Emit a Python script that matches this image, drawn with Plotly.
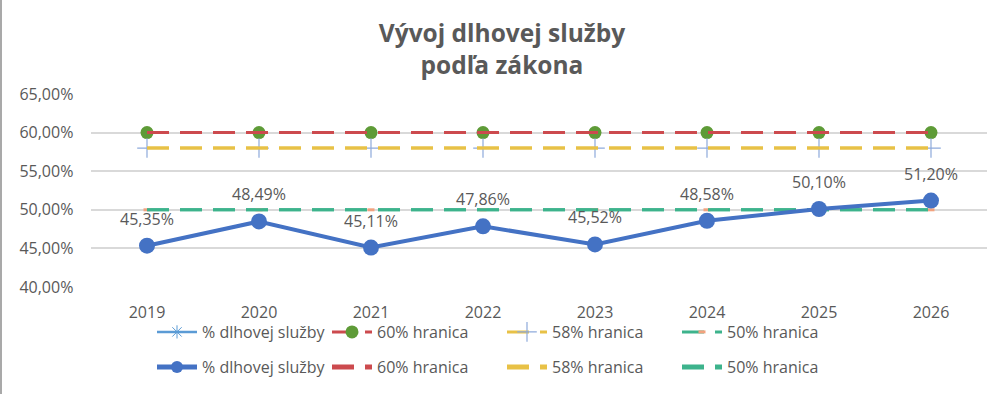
import plotly.graph_objects as go

years = ["2019", "2020", "2021", "2022", "2023", "2024", "2025", "2026"]
debt_service = [0.4535, 0.4849, 0.4511, 0.4786, 0.4552, 0.4858, 0.5010, 0.5120]
limit_60 = [0.60] * 8
limit_58 = [0.58] * 8
limit_50 = [0.50] * 8

FONT = "Open Sans"
GRAY = "#595959"
BLUE = "#4472C4"
RED = "#CC4A4E"
YELLOW = "#E8C146"
TEAL = "#3DB38C"
GREEN = "#5E9B37"
LIGHTBLUE = "#8EAADB"
ORANGE = "#F2A27E"
DASH = "22px,11px"

fig = go.Figure()

# Row 1 legend series
fig.add_trace(go.Scatter(x=years, y=debt_service, name="% dlhovej služby", mode="lines+markers",
                         line=dict(color="#5B9BD5", width=2.5),
                         marker=dict(symbol="asterisk-open", size=11, color="#5B9BD5", line=dict(width=1, color="#5B9BD5")),
                         legend="legend", hoverinfo="skip"))
fig.add_trace(go.Scatter(x=years, y=limit_60, name="60% hranica", mode="lines+markers",
                         line=dict(color=RED, width=3, dash=DASH),
                         marker=dict(symbol="circle", size=13, color=GREEN),
                         legend="legend"))
fig.add_trace(go.Scatter(x=years, y=limit_58, name="58% hranica", mode="lines+markers",
                         line=dict(color=YELLOW, width=3, dash=DASH),
                         marker=dict(symbol="cross-thin-open", size=14, color=LIGHTBLUE, line=dict(width=1.2, color=LIGHTBLUE)),
                         legend="legend"))
fig.add_trace(go.Scatter(x=years, y=limit_50, name="50% hranica", mode="lines+markers",
                         line=dict(color=TEAL, width=3, dash=DASH),
                         marker=dict(symbol="line-ew-open", size=5, color=ORANGE, line=dict(width=3, color=ORANGE)),
                         legend="legend"))

# Row 2 legend series
fig.add_trace(go.Scatter(x=years, y=limit_60, name="60% hranica", mode="lines",
                         line=dict(color=RED, width=3, dash=DASH), legend="legend2"))
fig.add_trace(go.Scatter(x=years, y=limit_58, name="58% hranica", mode="lines",
                         line=dict(color=YELLOW, width=3, dash=DASH), legend="legend2"))
fig.add_trace(go.Scatter(x=years, y=limit_50, name="50% hranica", mode="lines",
                         line=dict(color=TEAL, width=3, dash=DASH), legend="legend2"))
fig.add_trace(go.Scatter(x=years, y=debt_service, name="% dlhovej služby", mode="lines+markers",
                         line=dict(color=BLUE, width=4),
                         marker=dict(symbol="circle", size=16, color=BLUE),
                         legend="legend2", legendrank=1))

# data labels (category axis annotations use the category serial number)
for i, v in enumerate(debt_service):
    fig.add_annotation(x=i, y=v, xref="x", yref="y", text=f"{v*100:.2f}%".replace(".", ","),
                       showarrow=False, yshift=27, font=dict(family=FONT, size=16, color=GRAY))

legend_common = dict(orientation="h", xref="container", yref="container", xanchor="left", yanchor="middle",
                     entrywidth=120, itemwidth=40, font=dict(family=FONT, size=16, color=GRAY),
                     bgcolor="rgba(0,0,0,0)", traceorder="normal")

fig.update_layout(
    width=1004, height=394,
    margin=dict(l=91, r=17, t=94, b=107, autoexpand=False),
    paper_bgcolor="white", plot_bgcolor="white",
    separators=",.",
    font=dict(family=FONT, color=GRAY, size=15),
    title=dict(text="<b>Vývoj dlhovej služby<br>podľa zákona</b>", x=0.5, xanchor="center",
               y=1 - 42 / 394, yanchor="top", font=dict(family=FONT, size=24.5, color=GRAY)),
    xaxis=dict(type="category", range=[-0.5, 7.5], showgrid=False, showline=False, automargin=False,
               ticks="", ticklabelstandoff=14, tickfont=dict(family=FONT, size=16, color=GRAY)),
    yaxis=dict(range=[0.40, 0.65], dtick=0.05, tickformat=".2%", showgrid=True, automargin=False,
               gridcolor="#D9D9D9", gridwidth=1.5, zeroline=False, showline=False,
               ticks="", ticksuffix="    ", tickfont=dict(family=FONT, size=16, color=GRAY)),
    legend=dict(x=152 / 1004, y=1 - 332 / 394, itemsizing="trace", **legend_common),
    legend2=dict(x=152 / 1004, y=1 - 367 / 394, itemsizing="constant", **legend_common),
    showlegend=True,
)

fig.add_shape(type="line", xref="paper", yref="paper", x0=-90 / 896, x1=-90 / 896, y0=-107 / 193, y1=1 + 94 / 193,
              line=dict(color="#8C8C8C", width=1.5))

fig.write_html("out.html", post_script="document.body.style.margin='0';",
               config={"displayModeBar": False})
